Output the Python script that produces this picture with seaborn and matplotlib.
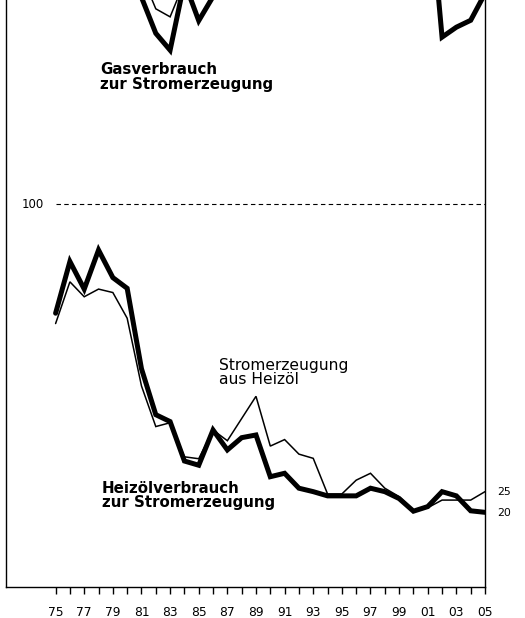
import numpy as np
import pandas as pd
import matplotlib
matplotlib.use('Agg')
import matplotlib.pyplot as plt
import seaborn as sns

# Jahre 1975 - 2005
years = list(range(1975, 2006))

# Heizölverbrauch zur Stromerzeugung (dicke Linie)
oel_verbrauch = [71.5, 85, 77.8, 88, 80.8, 78, 57, 45, 43.2, 32.9, 31.8, 41, 35.8, 39, 39.7,
                 28.8, 29.7, 25.8, 24.9, 23.8, 23.8, 23.8, 25.8, 24.9, 23.1, 19.8, 21, 24.9,
                 23.8, 19.9, 19.5]
# Stromerzeugung aus Heizöl (dünne Linie)
oel_strom = [68.8, 79.7, 75.8, 77.8, 76.9, 70.2, 52.5, 41.9, 42.9, 34, 33.5, 41, 38.2, 44, 49.8,
             36.8, 38.5, 34.7, 33.6, 24.3, 24.3, 27.9, 29.7, 25.8, 23.6, 20.1, 20.7, 22.7,
             22.7, 22.7, 24.9]

# Gasverbrauch zur Stromerzeugung - nur die sichtbaren Stücke (Rest liegt über dem Rand)
gas_verbrauch = {1981: 154, 1982: 144.6, 1983: 140.2, 1984: 158, 1985: 147.9, 1986: 154.2,
                 2001: 185, 2002: 143.6, 2003: 146.2, 2004: 148, 2005: 155}
gas_strom = {1981: 160, 1982: 151, 1983: 148.9, 1984: 158}

end_labels = ['25', '20']


def segmente(d):
    # zusammenhängende Jahre bekommen die gleiche Segment-Nummer
    df = pd.DataFrame({'jahr': list(d.keys()), 'wert': list(d.values())})
    df['seg'] = (df['jahr'].diff() != 1).cumsum()
    return df


df_oel = pd.DataFrame({'jahr': years, 'verbrauch': oel_verbrauch, 'strom': oel_strom})
df_gas_v = segmente(gas_verbrauch)
df_gas_s = segmente(gas_strom)

sns.set_style('ticks')
plt.rcParams['font.family'] = ['DejaVu Sans']
plt.rcParams['text.color'] = 'black'
plt.rcParams['xtick.color'] = 'black'
plt.rcParams['xtick.labelcolor'] = 'black'

fig = plt.figure(figsize=(5.25, 6.18), dpi=100)
ax = fig.add_axes([5.5 / 525, 31 / 618, 479.5 / 525, 587 / 618])

thin = 1.1
thick = 3.6
sns.lineplot(data=df_gas_s, x='jahr', y='wert', units='seg', estimator=None, color='black',
             linewidth=thin, ax=ax)
sns.lineplot(data=df_gas_v, x='jahr', y='wert', units='seg', estimator=None, color='black',
             linewidth=thick, ax=ax)
sns.lineplot(data=df_oel, x='jahr', y='strom', color='black', linewidth=thin, ax=ax)
sns.lineplot(data=df_oel, x='jahr', y='verbrauch', color='black', linewidth=thick, ax=ax)
for l in ax.lines:
    l.set_solid_joinstyle('miter')

# Referenzlinie 100
ax.plot([1975, 2005], [100, 100], color='black', linewidth=0.8, linestyle=(0, (4, 3)))
ax.text(1974.2, 100, '100', ha='right', va='center', fontsize=8.5)

ax.set_xlim(1971.5, 2005)
ax.set_ylim(0, 153.3)

ax.set_xticks(years[::2])
ax.set_xticklabels([f'{y % 100:02d}' for y in years[::2]], fontsize=8.8)
ax.set_xticks(years[1::2], minor=True)
ax.tick_params(axis='x', which='both', length=5, width=1, direction='out', pad=9,
               color='black', labelcolor='black')
ax.set_yticks([])
ax.set_xlabel('')
ax.set_ylabel('')

for s in ['left', 'bottom', 'right']:
    ax.spines[s].set_color('black')
    ax.spines[s].set_linewidth(1.0)
ax.spines['top'].set_visible(False)

# Beschriftungen
ax.text(1978.1, 137, 'Gasverbrauch\nzur Stromerzeugung', fontsize=10.8, fontweight='bold',
        ha='left', va='top', linespacing=0.93)
ax.text(1978.25, 27.6, 'Heizölverbrauch\nzur Stromerzeugung', fontsize=10.8, fontweight='bold',
        ha='left', va='top', linespacing=0.93)
ax.text(1986.4, 59.8, 'Stromerzeugung\naus Heizöl', fontsize=11.2,
        ha='left', va='top', linespacing=0.9)

ax.text(2005.85, oel_strom[-1], end_labels[0], fontsize=7.8, ha='left', va='center', clip_on=False)
ax.text(2005.85, oel_verbrauch[-1] - 0.3, end_labels[1], fontsize=7.8, ha='left', va='center',
        clip_on=False)

fig.savefig('out.png', dpi=100)
